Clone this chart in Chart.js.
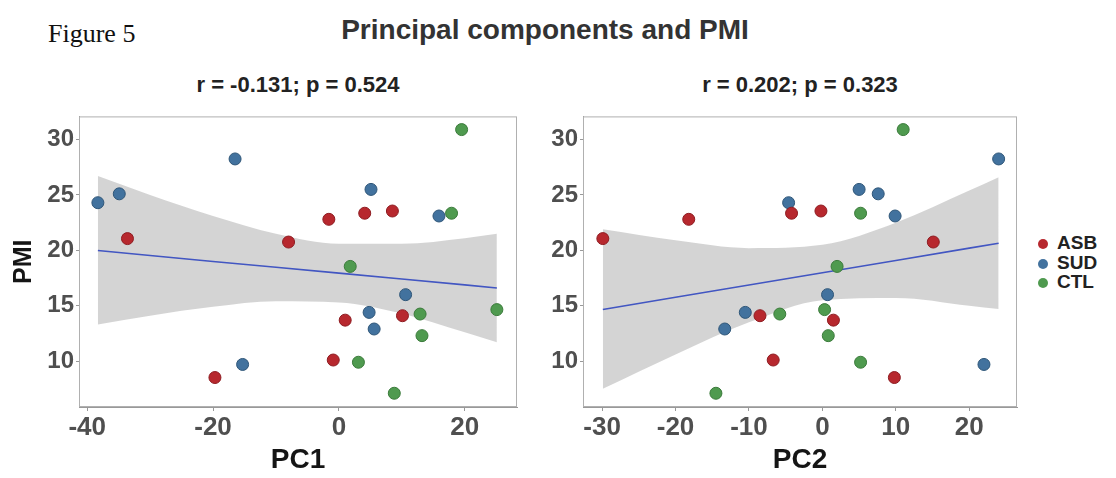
<!DOCTYPE html>
<html>
<head>
<meta charset="utf-8">
<title>Principal components and PMI</title>
<script src="https://cdn.jsdelivr.net/npm/chart.js@4/dist/chart.umd.min.js"></script>
<style>
    body { margin: 0; background: #fff; width: 1116px; height: 478px; position: relative; overflow: hidden; font-family: "Liberation Sans", Arial, sans-serif; }
    canvas { position: absolute; }
    #fig-label { position: absolute; left: 48px; top: 19px; font: 26px "Liberation Serif", serif; color: #111; }
    #main-title { position: absolute; left: 0; width: 1090px; top: 14px; text-align: center; font-weight: bold; font-size: 28px; color: #333; }
    .sub-title { position: absolute; top: 72px; text-align: center; font-weight: bold; font-size: 22px; color: #222; }
    #legend { position: absolute; left: 1036px; top: 233px; }
    #legend div { height: 19.5px; line-height: 19.5px; font-weight: bold; font-size: 19px; color: #222; }
    #legend span { display: inline-block; width: 10px; height: 10px; border-radius: 50%; margin: 0 9px 0 2px; vertical-align: 0px; }
</style>
</head>
<body>
<div id="fig-label">Figure 5</div>
<div id="main-title">Principal components and PMI</div>
<div class="sub-title" id="sub1" style="left:79px;width:438px;"></div>
<div class="sub-title" id="sub2" style="left:583px;width:434px;"></div>
<div id="legend"></div>
<canvas id="pc1Chart" width="530" height="378" style="left:0;top:100px;"></canvas>
<canvas id="pc2Chart" width="500" height="378" style="left:530px;top:100px;"></canvas>
<script>
// groups
const groups = ['ASB', 'SUD', 'CTL'];

// ASB subjects
const asbPMI = [21.06, 20.75, 22.8, 23.35, 23.55, 14.1, 13.7, 10.1, 8.52];
const asbPC1 = [-33.6, -8.0, -1.6, 4.1, 8.5, 10.1, 1.0, -0.9, -19.7];
const asbPC2 = [-29.9, 15.1, -18.2, -4.2, -0.2, -8.5, 1.5, -6.7, 9.8];

// SUD subjects
const sudPMI = [24.3, 25.1, 28.25, 25.5, 23.1, 16.0, 14.4, 12.9, 9.7];
const sudPC1 = [-38.3, -34.9, -16.5, 5.1, 15.9, 10.6, 4.8, 5.6, -15.3];
const sudPC2 = [-4.6, 7.6, 24.0, 5.0, 9.9, 0.7, -10.5, -13.3, 22.0];

// CTL subjects
const ctlPMI = [18.55, 23.35, 30.9, 14.25, 14.65, 12.3, 9.9, 7.1];
const ctlPC1 = [1.8, 17.9, 19.5, 12.9, 25.1, 13.2, 3.1, 8.8];
const ctlPC2 = [2.0, 5.2, 11.0, -5.8, 0.3, 0.8, 5.2, -14.5];

// linear fit and 95% band, PMI ~ PC1
const pc1FitX = [-38.3, -30, -20, -10, 0, 10, 20, 25.1];
const pc1Fit = [19.98, 19.54, 19.0, 18.47, 17.94, 17.41, 16.88, 16.6];
const pc1Upper = [26.7, 25.0, 23.1, 21.5, 20.6, 20.6, 21.1, 21.5];
const pc1Lower = [13.3, 14.1, 14.9, 15.4, 15.3, 14.3, 12.6, 11.7];

// linear fit and 95% band, PMI ~ PC2
const pc2FitX = [-29.9, -20, -10, 0, 10, 20, 24.0];
const pc2Fit = [14.66, 15.76, 16.87, 17.98, 19.09, 20.2, 20.64];
const pc2Upper = [21.9, 20.9, 20.2, 20.5, 22.5, 25.4, 26.6];
const pc2Lower = [7.5, 10.6, 13.5, 15.5, 15.7, 15.0, 14.7];

// correlation stats
const pc1Stats = 'r = -0.131; p = 0.524';
const pc2Stats = 'r = 0.202; p = 0.323';

// tick labels
const pmiTicks = [10, 15, 20, 25, 30];
const pc1Ticks = [-40, -20, 0, 20];
const pc2Ticks = [-30, -20, -10, 0, 10, 20];

const groupPMI = { ASB: asbPMI, SUD: sudPMI, CTL: ctlPMI };
const groupPC1 = { ASB: asbPC1, SUD: sudPC1, CTL: ctlPC1 };
const groupPC2 = { ASB: asbPC2, SUD: sudPC2, CTL: ctlPC2 };

const fillColors = { ASB: '#b7282e', SUD: '#42729e', CTL: '#4f9a4f' };
const edgeColors = { ASB: '#8e1c21', SUD: '#2f5678', CTL: '#3a7a3a' };

const fontFamily = '"Liberation Sans", Arial, sans-serif';
Chart.defaults.font.family = fontFamily;

document.getElementById('sub1').textContent = pc1Stats;
document.getElementById('sub2').textContent = pc2Stats;

const legendEl = document.getElementById('legend');
groups.forEach(g => {
    const row = document.createElement('div');
    const dot = document.createElement('span');
    dot.style.background = fillColors[g];
    row.appendChild(dot);
    row.appendChild(document.createTextNode(g));
    legendEl.appendChild(row);
});

// grey frame around the panel
const panelBorder = {
    id: 'panelBorder',
    afterDraw(chart) {
        const { ctx, chartArea: a } = chart;
        ctx.save();
        ctx.strokeStyle = '#b0b0b0';
        ctx.lineWidth = 1;
        ctx.strokeRect(a.left + 0.5, a.top + 0.5, a.right - a.left - 1, a.bottom - a.top - 1);
        ctx.restore();
    }
};

function points(xs, ys) {
    return xs.map((x, i) => ({ x: x, y: ys[i] }));
}

function buildChart(canvasId, xValues, fitX, fit, upper, lower, opts) {
    const datasets = [];
    groups.forEach(g => {
        datasets.push({
            label: g,
            data: points(xValues[g], groupPMI[g]),
            backgroundColor: fillColors[g],
            borderColor: edgeColors[g],
            borderWidth: 1,
            pointRadius: 6,
            order: 1
        });
    });
    datasets.push({
        label: 'fit',
        data: points(fitX, fit),
        showLine: true,
        borderColor: '#4256c2',
        borderWidth: 1.6,
        pointRadius: 0,
        fill: false,
        order: 2
    });
    datasets.push({
        label: 'upper',
        data: points(fitX, upper),
        showLine: true,
        borderWidth: 0,
        borderColor: 'rgba(0,0,0,0)',
        pointRadius: 0,
        cubicInterpolationMode: 'monotone',
        backgroundColor: 'rgba(153,153,153,0.42)',
        fill: '+1',
        order: 3
    });
    datasets.push({
        label: 'lower',
        data: points(fitX, lower),
        showLine: true,
        borderWidth: 0,
        borderColor: 'rgba(0,0,0,0)',
        pointRadius: 0,
        cubicInterpolationMode: 'monotone',
        fill: false,
        order: 3
    });

    return new Chart(document.getElementById(canvasId).getContext('2d'), {
        type: 'scatter',
        data: { datasets: datasets },
        plugins: [panelBorder],
        options: {
            responsive: false,
            animation: false,
            devicePixelRatio: 1,
            layout: { padding: opts.padding },
            plugins: { legend: { display: false }, tooltip: { enabled: false } },
            scales: {
                x: {
                    type: 'linear',
                    min: opts.xMin,
                    max: opts.xMax,
                    afterBuildTicks: axis => { axis.ticks = opts.xTicks.map(v => ({ value: v })); },
                    afterFit: axis => { axis.height = 71; },
                    grid: { drawOnChartArea: false, tickLength: 4, color: '#999' },
                    border: { color: '#999' },
                    ticks: { font: { size: 26, weight: 'bold' }, color: '#4f4f4f', padding: 1, maxRotation: 0 },
                    title: { display: true, text: opts.xTitle, font: { size: 28, weight: 'bold' }, color: '#151515', padding: { top: 0, bottom: 1 } }
                },
                y: {
                    type: 'linear',
                    min: 5.86,
                    max: 32.09,
                    afterBuildTicks: axis => { axis.ticks = pmiTicks.map(v => ({ value: v })); },
                    afterFit: axis => { axis.width = opts.yWidth; },
                    grid: { drawOnChartArea: false, tickLength: 3, color: '#999' },
                    border: { color: '#999' },
                    ticks: { font: { size: 24, weight: 'bold' }, color: '#4f4f4f', padding: 2 },
                    title: { display: opts.yTitle !== '', text: opts.yTitle, font: { size: 25, weight: 'bold' }, color: '#151515', padding: { top: 9, bottom: 0 } }
                }
            }
        }
    });
}

buildChart('pc1Chart', groupPC1, pc1FitX, pc1Fit, pc1Upper, pc1Lower, {
    padding: { top: 12, right: 13, left: 0, bottom: 0 },
    xMin: -41.3, xMax: 28.3, xTicks: pc1Ticks, xTitle: 'PC1',
    yWidth: 79, yTitle: 'PMI'
});

buildChart('pc2Chart', groupPC2, pc2FitX, pc2Fit, pc2Upper, pc2Lower, {
    padding: { top: 12, right: 13, left: 0, bottom: 0 },
    xMin: -32.6, xMax: 26.5, xTicks: pc2Ticks, xTitle: 'PC2',
    yWidth: 53, yTitle: ''
});
</script>
</body>
</html>
